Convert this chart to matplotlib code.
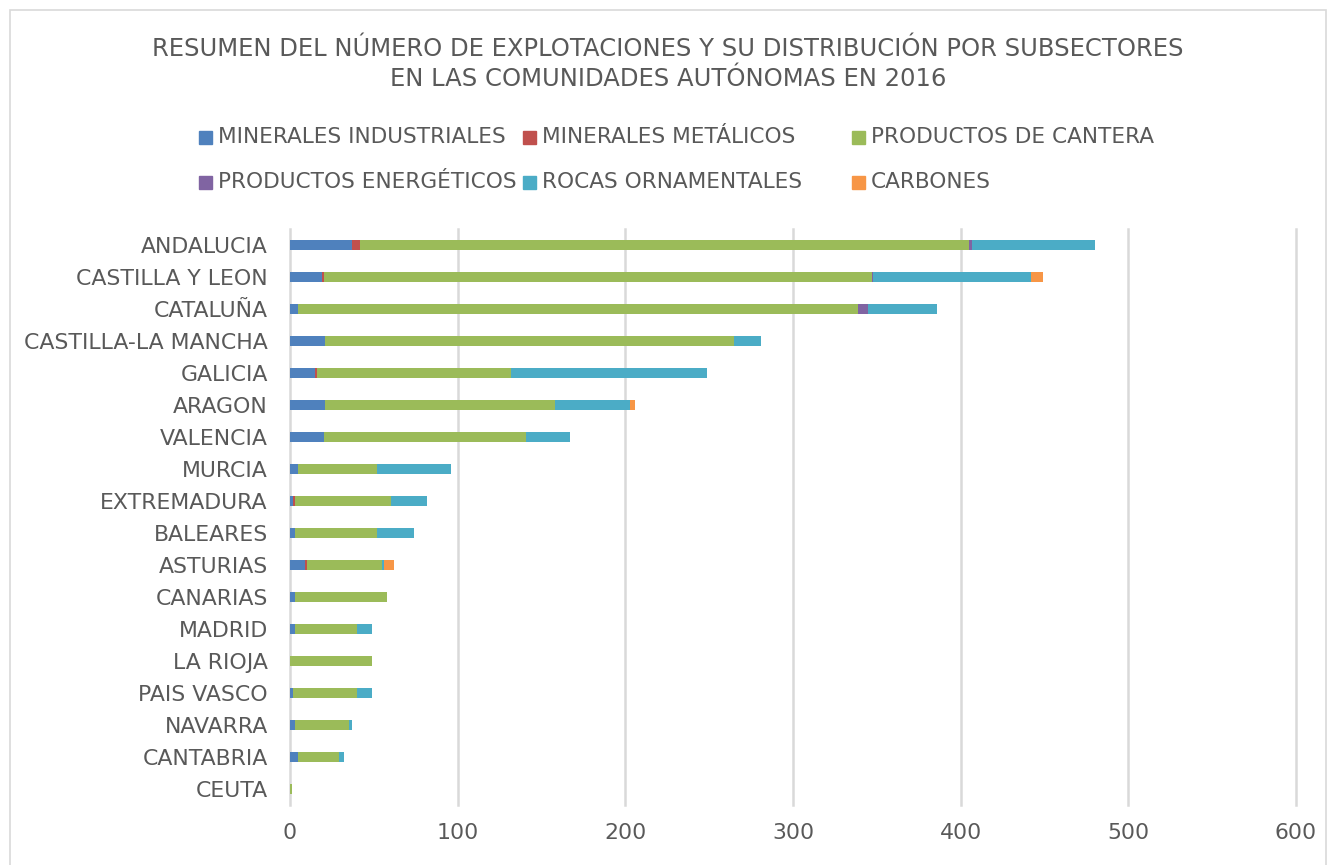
import numpy as np
import matplotlib.pyplot as plt
from matplotlib.patches import Rectangle

# Explotaciones por comunidad autonoma y subsector (2016)
comunidades = ["ANDALUCIA", "CASTILLA Y LEON", "CATALUÑA", "CASTILLA-LA MANCHA",
               "GALICIA", "ARAGON", "VALENCIA", "MURCIA", "EXTREMADURA", "BALEARES",
               "ASTURIAS", "CANARIAS", "MADRID", "LA RIOJA", "PAIS VASCO", "NAVARRA",
               "CANTABRIA", "CEUTA"]

subsectores = ["MINERALES INDUSTRIALES", "MINERALES METÁLICOS", "PRODUCTOS DE CANTERA",
               "PRODUCTOS ENERGÉTICOS", "ROCAS ORNAMENTALES", "CARBONES"]

min_industriales = [37, 19, 5, 21, 15, 21, 20, 5, 2, 3, 9, 3, 3, 0, 2, 3, 5, 0]
min_metalicos = [5, 1, 0, 0, 1, 0, 0, 0, 1, 0, 1, 0, 0, 0, 0, 0, 0, 0]
prod_cantera = [363, 327, 334, 244, 116, 137, 121, 47, 57, 49, 45, 55, 37, 49, 38, 32, 24, 1]
prod_energeticos = [2, 1, 6, 0, 0, 0, 0, 0, 0, 0, 0, 0, 0, 0, 0, 0, 0, 0]
rocas_ornamentales = [73, 94, 41, 16, 117, 45, 26, 44, 22, 22, 1, 0, 9, 0, 9, 2, 3, 0]
carbones = [0, 7, 0, 0, 0, 3, 0, 0, 0, 0, 6, 0, 0, 0, 0, 0, 0, 0]

series = [min_industriales, min_metalicos, prod_cantera,
          prod_energeticos, rocas_ornamentales, carbones]
colores = ["#4F81BD", "#C0504D", "#9BBB59", "#8064A2", "#4BACC6", "#F79646"]

plt.rcParams['font.family'] = ['DejaVu Sans']
gris = "#595959"

fig = plt.figure(figsize=(13.36, 8.65), dpi=100)
ax = fig.add_axes([290 / 1336, 60 / 865, 1006 / 1336, 576 / 865])

y = np.arange(len(comunidades))
left = np.zeros(len(comunidades))
for vals, col in zip(series, colores):
    ax.barh(y, vals, left=left, height=0.31, color=col, linewidth=0, zorder=3)
    left += np.array(vals)

ax.set_ylim(len(comunidades) - 0.5, -0.5)
ax.set_xlim(0, 600)
ax.set_xticks(np.arange(0, 601, 100))
ax.set_yticks(y)
ax.set_yticklabels(comunidades)
ax.grid(axis='x', color="#D9D9D9", linewidth=1.8, zorder=0)
for gl in ax.get_xgridlines():
    gl.set_clip_on(False)
for s in ax.spines.values():
    s.set_visible(False)
ax.tick_params(length=0, labelsize=15.8, colors=gris)
ax.tick_params(axis='y', pad=16)
ax.tick_params(axis='x', pad=13)

# titulo
fig.text(0.5, 1 - 49 / 865, "RESUMEN DEL NÚMERO DE EXPLOTACIONES Y SU DISTRIBUCIÓN POR SUBSECTORES",
         ha='center', va='center', fontsize=17.5, color=gris)
fig.text(0.5, 1 - 79 / 865, "EN LAS COMUNIDADES AUTÓNOMAS EN 2016",
         ha='center', va='center', fontsize=17.5, color=gris)

# leyenda
col_x = [199, 523, 852]
row_y = [137, 182]
for i, (nombre, col) in enumerate(zip(subsectores, colores)):
    px = col_x[i % 3]
    py = row_y[i // 3]
    fig.patches.append(Rectangle((px / 1336, 1 - (py + 7) / 865), 13 / 1336, 13 / 865,
                                 transform=fig.transFigure, color=col))
    fig.text((px + 19) / 1336, 1 - py / 865, nombre, ha='left', va='center',
             fontsize=15.6, color=gris)

# marco
fig.patches.append(Rectangle((10 / 1336, -0.01), 1316 / 1336, 1 - 10 / 865 + 0.01,
                             transform=fig.transFigure, fill=False,
                             edgecolor="#D9D9D9", linewidth=1.2))

fig.savefig("out.png", dpi=100)
